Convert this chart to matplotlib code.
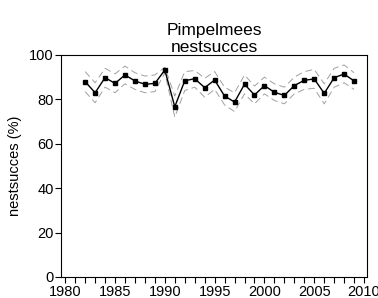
import matplotlib
matplotlib.use("Agg")
import matplotlib.pyplot as plt
from matplotlib.ticker import MultipleLocator

plt.rcParams['font.family'] = ['Liberation Sans', 'DejaVu Sans']

years = list(range(1982, 2010))
nest_success = [88.0, 83.0, 89.8, 87.2, 91.0, 88.3, 86.8, 87.2, 93.2, 76.7,
                88.4, 89.3, 85.3, 88.7, 81.5, 78.8, 86.8, 82.0, 86.2, 83.2,
                81.8, 86.2, 88.6, 89.2, 82.7, 89.8, 91.4, 88.3]
lower = [83.5, 78.5, 85.5, 83.0, 87.0, 84.5, 83.0, 83.5, 92.0, 72.0,
         84.0, 85.5, 81.0, 84.5, 77.5, 74.5, 82.5, 78.0, 82.5, 79.5,
         78.0, 82.5, 84.5, 85.0, 78.0, 85.5, 87.5, 84.5]
upper = [92.5, 87.5, 94.0, 91.5, 95.0, 92.0, 90.5, 91.0, 94.5, 81.5,
         92.5, 93.0, 89.5, 92.5, 85.5, 83.0, 91.0, 86.0, 90.0, 87.0,
         85.5, 90.0, 92.5, 93.5, 87.0, 94.0, 95.5, 92.0]

fig = plt.figure(figsize=(3.78, 2.98), dpi=100)
ax = fig.add_axes([0.162, 0.0705, 0.809, 0.745])

ax.plot(years, upper, color='#a0a0a0', lw=0.7, ls=(0, (7, 4)))
ax.plot(years, lower, color='#a0a0a0', lw=0.7, ls=(0, (7, 4)))
ax.plot(years, nest_success, color='black', lw=1.0, marker='s', ms=3.2)

ax.set_xlim(1979.6, 2010.3)
ax.set_ylim(0, 100)
ax.xaxis.set_major_locator(MultipleLocator(5))
ax.xaxis.set_minor_locator(MultipleLocator(1))
ax.yaxis.set_major_locator(MultipleLocator(20))
ax.tick_params(axis='both', which='both', direction='out', length=4, width=0.8,
               labelsize=10.5, pad=1.5)
ax.tick_params(axis='x', which='minor', length=4)
for s in ax.spines.values():
    s.set_linewidth(0.8)

ax.set_ylabel('nestsucces (%)', fontsize=10.5, labelpad=5)
ax.set_title('Pimpelmees\nnestsucces', fontsize=12.5, pad=2, linespacing=1.15)

fig.savefig('out.png', dpi=100)
